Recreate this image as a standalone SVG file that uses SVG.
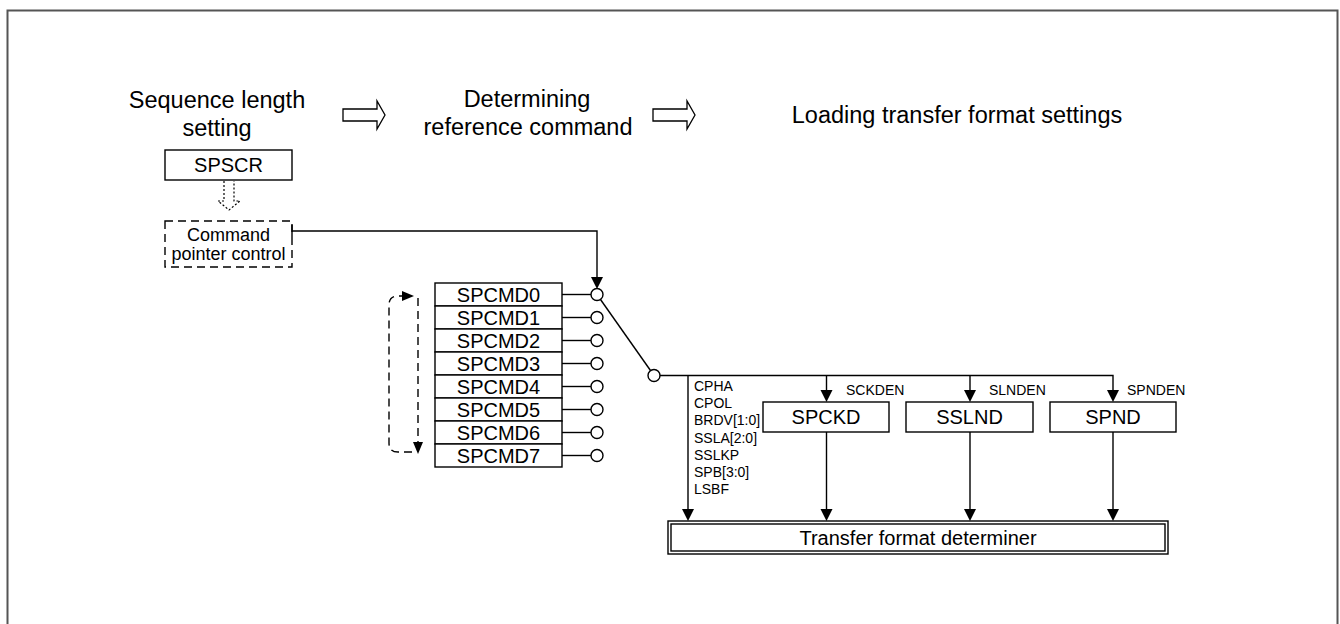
<svg xmlns="http://www.w3.org/2000/svg" width="1340" height="624" viewBox="0 0 1340 624">
<style>
text{font-family:"Liberation Sans",Arial,sans-serif;fill:#000}
.title{font-size:23.5px;text-anchor:middle}
.reg{font-size:20px;text-anchor:middle}
.sm{font-size:14px}
.box{fill:#fff;stroke:#000;stroke-width:1.4}
.ln{fill:none;stroke:#000;stroke-width:1.4}
.dash{fill:none;stroke:#000;stroke-width:1.4;stroke-dasharray:8,5}
.ah{fill:#000;stroke:none}
.pin{fill:#fff;stroke:#000;stroke-width:1.4}
.hollow{fill:#fff;stroke:#000;stroke-width:1.3}
</style>
<rect x="7.5" y="10.5" width="1330" height="660" fill="#fff" stroke="#555" stroke-width="2"/>

<g id="titles">
<text class="title" x="217" y="108">Sequence length</text>
<text class="title" x="217" y="136">setting</text>
<text class="title" x="527" y="107">Determining</text>
<text class="title" x="528" y="135">reference command</text>
<text class="title" x="957" y="123">Loading transfer format settings</text>
<polygon class="hollow" points="343,109 377,109 377,101 385,115 377,129 377,121 343,121"/>
<polygon class="hollow" points="653,109 687,109 687,101 695,115 687,129 687,121 653,121"/>
</g>

<g id="SPSCR">
<rect class="box" x="165" y="150" width="127" height="30"/>
<text class="reg" x="228.5" y="172">SPSCR</text>
</g>
<g id="spscr-arrow">
<polyline points="224,181 224,201 218,201 229,210 240,201 234,201 234,181" fill="#fff" stroke="#000" stroke-width="1.2" stroke-dasharray="2,2"/>
</g>

<g id="cmdptr">
<rect x="165" y="221" width="127" height="46" fill="#fff" stroke="#000" stroke-width="1.4" stroke-dasharray="8,5"/>
<line class="ln" x1="292" y1="225" x2="292" y2="237"/>
<text x="228.5" y="241" font-size="18" text-anchor="middle">Command</text>
<text x="228.5" y="260" font-size="18" text-anchor="middle">pointer control</text>
</g>

<g id="spcmd">
<rect class="box" x="435" y="283" width="127" height="23"/><text class="reg" x="498.5" y="301.5">SPCMD0</text>
<rect class="box" x="435" y="306" width="127" height="23"/><text class="reg" x="498.5" y="324.5">SPCMD1</text>
<rect class="box" x="435" y="329" width="127" height="23"/><text class="reg" x="498.5" y="347.5">SPCMD2</text>
<rect class="box" x="435" y="352" width="127" height="23"/><text class="reg" x="498.5" y="370.5">SPCMD3</text>
<rect class="box" x="435" y="375" width="127" height="23"/><text class="reg" x="498.5" y="393.5">SPCMD4</text>
<rect class="box" x="435" y="398" width="127" height="23"/><text class="reg" x="498.5" y="416.5">SPCMD5</text>
<rect class="box" x="435" y="421" width="127" height="23"/><text class="reg" x="498.5" y="439.5">SPCMD6</text>
<rect class="box" x="435" y="444" width="127" height="23"/><text class="reg" x="498.5" y="462.5">SPCMD7</text>
</g>

<g id="SPCKD">
<rect class="box" x="763" y="402" width="126" height="30"/>
<text class="reg" x="826" y="424">SPCKD</text>
</g>
<g id="SSLND">
<rect class="box" x="906" y="402" width="127" height="30"/>
<text class="reg" x="969.5" y="424">SSLND</text>
</g>
<g id="SPND">
<rect class="box" x="1050" y="402" width="126" height="30"/>
<text class="reg" x="1113" y="424">SPND</text>
</g>
<g id="determiner">
<rect class="box" x="668" y="521" width="500" height="33"/>
<rect class="box" x="671" y="524" width="494" height="27"/>
<text class="reg" x="918" y="545">Transfer format determiner</text>
</g>

<g id="connectors">
<polyline class="ln" points="292,231 597,231 597,278"/>
<polygon class="ah" points="591,277 603,277 597,289"/>
<line class="ln" x1="562" y1="294.5" x2="591" y2="294.5"/>
<line class="ln" x1="562" y1="317.5" x2="591" y2="317.5"/>
<line class="ln" x1="562" y1="340.5" x2="591" y2="340.5"/>
<line class="ln" x1="562" y1="363.5" x2="591" y2="363.5"/>
<line class="ln" x1="562" y1="386.5" x2="591" y2="386.5"/>
<line class="ln" x1="562" y1="409.5" x2="591" y2="409.5"/>
<line class="ln" x1="562" y1="432.5" x2="591" y2="432.5"/>
<line class="ln" x1="562" y1="455.5" x2="591" y2="455.5"/>
<circle class="pin" cx="597" cy="294.5" r="6"/>
<circle class="pin" cx="597" cy="317.5" r="6"/>
<circle class="pin" cx="597" cy="340.5" r="6"/>
<circle class="pin" cx="597" cy="363.5" r="6"/>
<circle class="pin" cx="597" cy="386.5" r="6"/>
<circle class="pin" cx="597" cy="409.5" r="6"/>
<circle class="pin" cx="597" cy="432.5" r="6"/>
<circle class="pin" cx="597" cy="455.5" r="6"/>
<line class="ln" x1="600.5" y1="299.5" x2="650.5" y2="370.5"/>
<circle class="pin" cx="654" cy="375.5" r="6"/>
<polyline class="ln" points="660,375.5 1113,375.5 1113,392"/>
<line class="ln" x1="688" y1="375.5" x2="688" y2="510"/>
<polygon class="ah" points="682,509 694,509 688,521"/>
<line class="ln" x1="826.5" y1="375.5" x2="826.5" y2="391"/>
<polygon class="ah" points="820.5,390 832.5,390 826.5,402"/>
<line class="ln" x1="970" y1="375.5" x2="970" y2="391"/>
<polygon class="ah" points="964,390 976,390 970,402"/>
<polygon class="ah" points="1107,390 1119,390 1113,402"/>
<line class="ln" x1="826.5" y1="432" x2="826.5" y2="510"/>
<polygon class="ah" points="820.5,509 832.5,509 826.5,521"/>
<line class="ln" x1="970" y1="432" x2="970" y2="510"/>
<polygon class="ah" points="964,509 976,509 970,521"/>
<line class="ln" x1="1113" y1="432" x2="1113" y2="510"/>
<polygon class="ah" points="1107,509 1119,509 1113,521"/>
<path class="dash" d="M412,452 L398,452 Q389,452 389,443 L389,305 Q389,296 398,296 L403,296"/>
<polygon class="ah" points="402,291 414,296 402,301"/>
<line class="dash" x1="418" y1="298" x2="418" y2="443"/>
<polygon class="ah" points="413,442 423,442 418,454"/>
</g>

<g id="labels">
<text class="sm" x="846" y="395">SCKDEN</text>
<text class="sm" x="989" y="395">SLNDEN</text>
<text class="sm" x="1127" y="395">SPNDEN</text>
<text class="sm" x="694" y="391">CPHA</text>
<text class="sm" x="694" y="408.2">CPOL</text>
<text class="sm" x="694" y="425.4">BRDV[1:0]</text>
<text class="sm" x="694" y="442.6">SSLA[2:0]</text>
<text class="sm" x="694" y="459.8">SSLKP</text>
<text class="sm" x="694" y="477">SPB[3:0]</text>
<text class="sm" x="694" y="494.2">LSBF</text>
</g>
</svg>
